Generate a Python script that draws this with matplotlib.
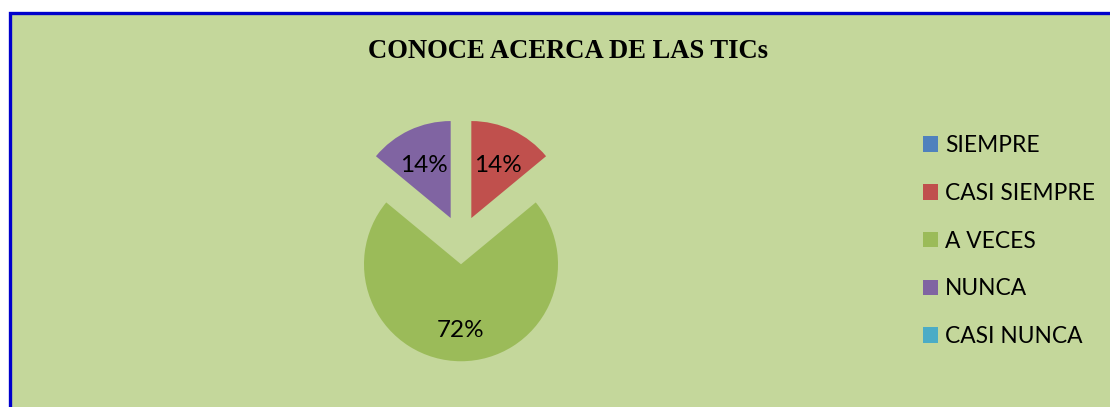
import matplotlib
matplotlib.use("Agg")
import matplotlib.pyplot as plt
from matplotlib.patches import Rectangle
from matplotlib.transforms import ScaledTranslation

categories = ["SIEMPRE", "CASI SIEMPRE", "A VECES", "NUNCA", "CASI NUNCA"]
percentages = [0, 14, 72, 14, 0]
colors = ["#4F81BD", "#C0504D", "#9BBB59", "#8064A2", "#4BACC6"]
title = "CONOCE ACERCA DE LAS TICs"

W, H = 1110, 407
fig = plt.figure(figsize=(W / 100, H / 100), dpi=100, facecolor="white")

# chart area with blue border (bottom and right edges cut off)
fig.patches.append(Rectangle((10 / W, -0.2), 1.2, 0.2 + (H - 13) / H, transform=fig.transFigure,
                             facecolor="#C4D79B", edgecolor="#0000CC", linewidth=2.4,
                             zorder=-5))

fig.text(567.5 / W, 1 - 51 / H, title, ha="center", va="center",
         family="Liberation Serif", weight="bold", fontsize=19.2)

# pie axes: centre at (461, 240) px, radius 97 px
r_px = 97
half = 150
cx, cy = 461, H - 240
ax = fig.add_axes([(cx - half) / W, (cy - half) / H, 2 * half / W, 2 * half / H])
ax.set_facecolor("none")
ax.set_zorder(2)


def pct_label(p):
    return "" if p < 0.5 else "%d%%" % round(p)


wedges, texts, autotexts = ax.pie(percentages, colors=colors, startangle=90,
                                  counterclock=False, explode=[0.25] * len(percentages),
                                  autopct=pct_label, pctdistance=0.64,
                                  textprops=dict(family="Lato", fontsize=17.5, color="black"))
# nudge labels down a little so the digits sit like the original
for t in autotexts:
    t.set_transform(t.get_transform() + ScaledTranslation(0, -4 / 100, fig.dpi_scale_trans))

lim = half / r_px
ax.set_xlim(-lim, lim)
ax.set_ylim(-lim, lim)
ax.set_aspect("equal")

leg = fig.legend(wedges, categories, loc="upper left", bbox_to_anchor=(914 / W, 1 - 126 / H),
                 frameon=False, prop=dict(family="Lato", size=16.4), handlelength=0.66,
                 handleheight=0.66, handletextpad=0.3, labelspacing=1.175, borderaxespad=0)
leg.set_zorder(3)

fig.savefig("out.png", dpi=100, facecolor="white")
